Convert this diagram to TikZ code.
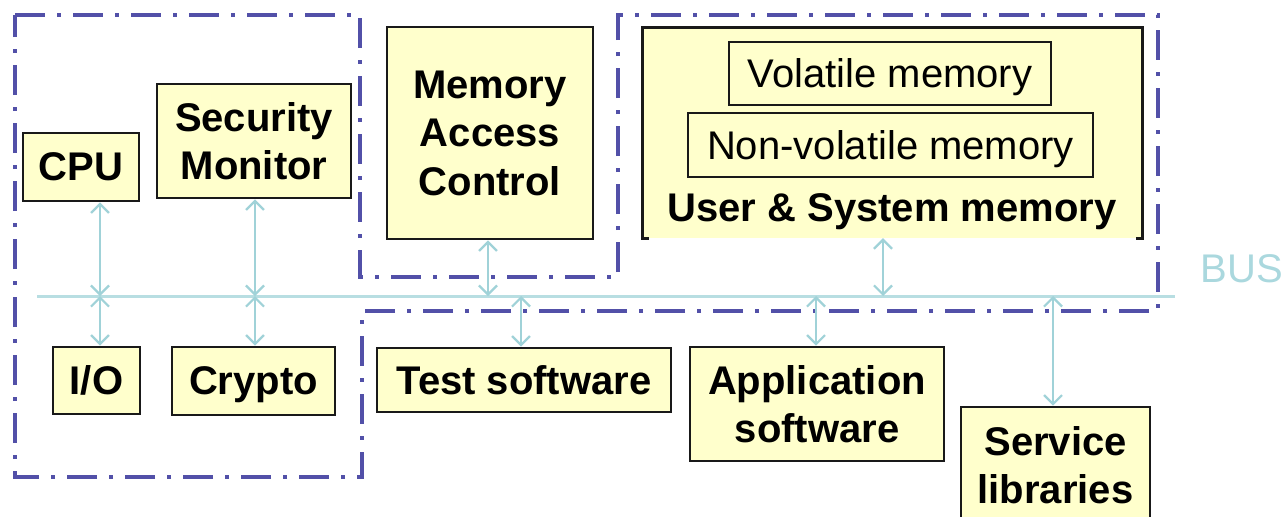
\documentclass[tikz,border=0pt]{standalone}
\usepackage{fontspec}
\setmainfont{Liberation Sans}
\usetikzlibrary{arrows.meta}
\definecolor{boxfill}{RGB}{255,255,204}
\definecolor{zone}{RGB}{82,80,168}
\definecolor{busc}{RGB}{184,222,226}
\definecolor{linkc}{RGB}{160,210,216}
\definecolor{buslabel}{RGB}{170,216,222}

\begin{document}
\begin{tikzpicture}[x=1pt,y=-1pt,
  unit/.style={draw=black!90, line width=2.8pt, fill=boxfill, inner sep=0pt,
    align=center, text depth=0pt, font=\bfseries\fontsize{40}{48.5}\selectfont},
  memcell/.style={draw=black!90, line width=2.5pt, fill=boxfill, inner sep=0pt,
    text depth=0pt, font=\fontsize{40}{48.5}\selectfont},
  zoneline/.style={draw=zone, line width=3.6pt,
    dash pattern=on 30pt off 12pt on 4pt off 12pt},
  busline/.style={draw=busc, line width=3pt},
  link/.style={draw=linkc, line width=2.2pt,
    {Straight Barb[length=9pt,width=18pt]}-{Straight Barb[length=9pt,width=18pt]}}
]
\useasboundingbox (0,0) rectangle (1286,517);
\clip (0,0) rectangle (1286,517);
\fill[white] (0,0) rectangle (1286,517);

% secure zone boundary (notched around the access control unit)
\draw[zoneline] (15,15) -- (360,15) -- (360,277) -- (618,277) -- (618,15)
  -- (1158,15) -- (1158,311) -- (362,311) -- (362,477) -- (15,477) -- cycle;

% system bus
\coordinate (busL) at (37,296);
\coordinate (busR) at (1175,296);
\draw[busline] (busL) -- (busR);
\node[font=\fontsize{40}{48.5}\selectfont, text=buslabel, inner sep=0pt, anchor=base]
  (buslbl) at (1242,282) {BUS};

% taps on the bus
\coordinate (t1) at (100,296);
\coordinate (t2) at (255,296);
\coordinate (t3) at (488,296);
\coordinate (t4) at (883,296);
\coordinate (t5) at (521,296);
\coordinate (t6) at (816,296);
\coordinate (t7) at (1053,296);

% units
\node[unit, minimum width=116pt, minimum height=68pt] (cpu) at (81,167) {CPU};
\node[unit, minimum width=194pt, minimum height=114pt] (secmon) at (254,141) {Security\\Monitor};
\node[unit, minimum width=206pt, minimum height=212pt] (mac) at (490,133) {Memory\\Access\\Control};
\node[unit, minimum width=87pt, minimum height=67pt] (io) at (96.5,380.5) {I/O};
\node[unit, minimum width=163pt, minimum height=68pt] (crypto) at (253.5,381) {Crypto};
\node[unit, minimum width=294pt, minimum height=64pt] (test) at (524,380) {Test software};
\node[unit, minimum width=254pt, minimum height=114pt] (app) at (817,404) {Application\\software};
\node[unit, minimum width=189pt, minimum height=116pt] (svc) at (1055.5,465) {Service\\libraries};

% memory block with open bottom edge
\node[fill=boxfill, inner sep=0pt, minimum width=499pt, minimum height=210pt] (mem) at (892.5,133) {};
\draw[black!90, line width=2.8pt] ([xshift=6pt]mem.south west) -- (mem.south west)
  -- (mem.north west) -- (mem.north east) -- (mem.south east) -- ([xshift=-6pt]mem.south east);
\node[memcell, minimum width=322pt, minimum height=63pt] (vol) at (890,73.5) {Volatile memory};
\node[memcell, minimum width=405pt, minimum height=64pt] (nvol) at (890.5,145) {Non-volatile memory};
\node[font=\bfseries\fontsize{40}{48.5}\selectfont, inner sep=0pt, anchor=base]
  (memlbl) at (892,221) {User \& System memory};

% bus connections
\draw[link] (cpu.south -| t1) -- (t1);
\draw[link] (t1) -- (io.north -| t1);
\draw[link] (secmon.south -| t2) -- (t2);
\draw[link] (t2) -- (crypto.north -| t2);
\draw[link] (mac.south -| t3) -- (t3);
\draw[link] (mem.south -| t4) -- (t4);
\draw[link] (t5) -- (test.north -| t5);
\draw[link] (t6) -- (app.north -| t6);
\draw[link] (t7) -- (svc.north -| t7);
\end{tikzpicture}
\end{document}
